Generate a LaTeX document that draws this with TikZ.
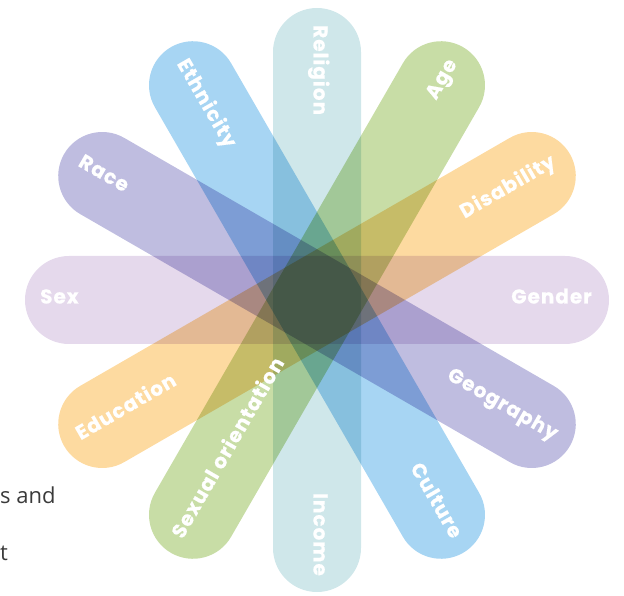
\documentclass[tikz,border=0pt]{standalone}
\usepackage{fontspec}
\usetikzlibrary{calc}
\newfontfamily\labfont[LetterSpace=5,FakeBold=0.6]{Poppins}
\newfontfamily\bodyfont{Open Sans}
\definecolor{cteal}{HTML}{CFE7EA}
\definecolor{clav}{HTML}{E5D9EC}
\definecolor{cblue}{HTML}{A7D5F3}
\definecolor{cgreen}{HTML}{C8DDA6}
\definecolor{cpurple}{HTML}{BFBDE0}
\definecolor{corange}{HTML}{FDDAA0}
\definecolor{ctext}{HTML}{3A3A3A}
\tikzset{
  lab/.style={text=white, inner sep=0pt, font=\labfont\bfseries\fontsize{20}{20}\selectfont, text height=0.7em, text depth=0pt},
  side/.style={text=ctext, inner sep=0pt, anchor=base west, font=\bodyfont\fontsize{22}{22}\selectfont}
}
\newcommand{\petal}[2]{%
  \begin{scope}[shift={(C)}, rotate=#1]
    \fill[#2] (-248,-44) -- (248,-44) arc[start angle=-90,end angle=90,radius=44pt]
      -- (-248,44) arc[start angle=90,end angle=270,radius=44pt] -- cycle;
  \end{scope}}
\begin{document}
\begin{tikzpicture}[x=1pt,y=1pt]
\useasboundingbox (0,0) rectangle (624,595);
\coordinate (C) at (317,295);
\begin{scope}[blend group=multiply]
  \petal{90}{cteal}
  \petal{0}{clav}
  \petal{120}{cblue}
  \petal{60}{cgreen}
  \petal{150}{cpurple}
  \petal{30}{corange}
\end{scope}
\node[lab, rotate=-90, anchor=west] (religion) at ($(C)+(90:275)$) {Religion};
\node[lab, rotate=-90, anchor=east] (income) at ($(C)+(270:276)$) {Income};
\node[lab, anchor=west] (sex) at ($(C)+(180:277)$) {Sex};
\node[lab, anchor=east] (gender) at ($(C)+(0:275)$) {Gender};
\node[lab, rotate=-60, anchor=west] (ethnicity) at ($(C)+(120:275)$) {Ethnicity};
\node[lab, rotate=-60, anchor=east] (culture) at ($(C)+(300:275)$) {Culture};
\node[lab, rotate=60, anchor=east] (age) at ($(C)+(60:275)$) {Age};
\node[lab, rotate=60, anchor=west] (sexor) at ($(C)+(240:275)$) {Sexual orientation};
\node[lab, rotate=-30, anchor=west] (race) at ($(C)+(150:275)$) {Race};
\node[lab, rotate=-30, anchor=east] (geography) at ($(C)+(330:275)$) {Geography};
\node[lab, rotate=30, anchor=east] (disability) at ($(C)+(30:275)$) {Disability};
\node[lab, rotate=30, anchor=west] (education) at ($(C)+(210:275)$) {Education};
\node[side] (sand) at (0,92) {s and};
\node[side] (tt) at (0,35) {t};
\end{tikzpicture}
\end{document}
